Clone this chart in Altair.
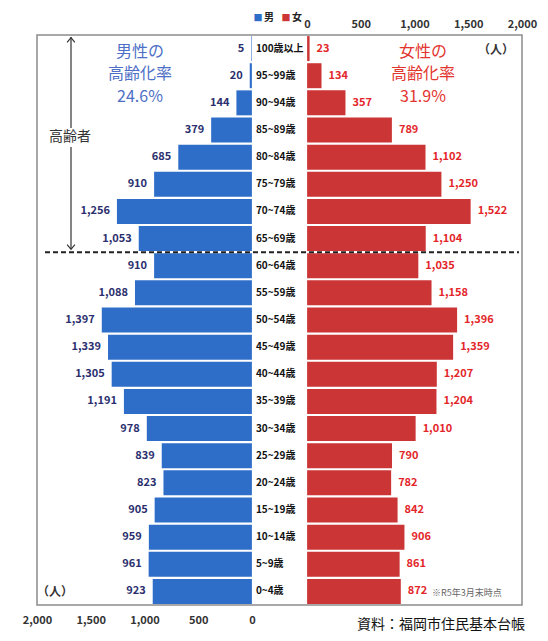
import altair as alt
import pandas as pd

# ---- data ----
ages = ["100歳以上", "95~99歳", "90~94歳", "85~89歳", "80~84歳", "75~79歳", "70~74歳",
        "65~69歳", "60~64歳", "55~59歳", "50~54歳", "45~49歳", "40~44歳", "35~39歳",
        "30~34歳", "25~29歳", "20~24歳", "15~19歳", "10~14歳", "5~9歳", "0~4歳"]
male = [5, 20, 144, 379, 685, 910, 1256, 1053, 910, 1088, 1397, 1339, 1305, 1191,
        978, 839, 823, 905, 959, 961, 923]
female = [23, 134, 357, 789, 1102, 1250, 1522, 1104, 1035, 1158, 1396, 1359, 1207, 1204,
          1010, 790, 782, 842, 906, 861, 872]
axis_ticks = [0, 500, 1000, 1500, 2000]
male_note = ["男性の", "高齢化率", "24.6%"]
female_note = ["女性の", "高齢化率", "31.9%"]
elderly_label = "高齢者"
unit_label = "（人）"
date_note = "※R5年3月末時点"
source_note = "資料：福岡市住民基本台帳"
boundary_age = "60~64歳"

# ---- style ----
FONT = "Noto Sans CJK JP"
BLUE = "#2f6ec8"
RED = "#cc3535"
BLUE_TXT = "#2b2f6e"
RED_TXT = "#e3262a"
BLUE_NOTE = "#4d6fc6"
RED_NOTE = "#e3352f"
GAP = 257          # half of the centre gap, in persons
MAXV = 2000

df_m = pd.DataFrame({"age": ages, "value": male})
df_f = pd.DataFrame({"age": ages, "value": female})
one = pd.DataFrame({"k": [0]})

xscale = alt.Scale(domain=[-(MAXV + GAP), MAXV + GAP], nice=False, zero=False)
yscale = alt.Scale(domain=ages, paddingInner=0.08, paddingOuter=0.04)


def Y(**kw):
    return alt.Y("age:N", scale=yscale, axis=None, **kw)


axis_common = dict(title=None, ticks=False, domain=False, grid=False,
                   labelFont=FONT, labelFontSize=11, labelFontWeight="bold",
                   labelColor="#333333", labelFlush=False, labelOverlap=False)

bottom_axis = alt.Axis(orient="bottom", values=[-(GAP + v) for v in axis_ticks],
                       labelExpr=f"format(-datum.value - {GAP}, ',')",
                       labelPadding=9, **axis_common)
top_axis = alt.Axis(orient="top", values=[GAP + v for v in axis_ticks],
                    labelExpr=f"format(datum.value - {GAP}, ',')",
                    labelPadding=6, **axis_common)

male_base = alt.Chart(df_m).transform_calculate(
    x0=f"-{GAP}", x1=f"-{GAP} - datum.value")
female_base = alt.Chart(df_f).transform_calculate(
    x0=f"{GAP}", x1=f"{GAP} + datum.value")

male_bars = male_base.mark_bar(color=BLUE).encode(
    x=alt.X("x1:Q", scale=xscale, axis=bottom_axis), x2="x0:Q", y=Y())
female_bars = female_base.mark_bar(color=RED).encode(
    x=alt.X("x1:Q", scale=xscale, axis=top_axis), x2="x0:Q", y=Y())

male_vals = male_base.mark_text(align="right", baseline="middle", dx=-7, font=FONT,
                                fontSize=11, fontWeight="bold", color=BLUE_TXT).encode(
    x=alt.X("x1:Q", scale=xscale, axis=None), y=Y(),
    text=alt.Text("value:Q", format=","))
female_vals = female_base.mark_text(align="left", baseline="middle", dx=7, font=FONT,
                                    fontSize=11, fontWeight="bold", color=RED_TXT).encode(
    x=alt.X("x1:Q", scale=xscale, axis=None), y=Y(),
    text=alt.Text("value:Q", format=","))

age_labels = male_base.mark_text(align="left", baseline="middle", dx=4, font=FONT,
                                 fontSize=10, fontWeight="bold", color="#111111").encode(
    x=alt.X("x0:Q", scale=xscale, axis=None), y=Y(), text="age:N")

dash = alt.Chart(pd.DataFrame({"age": [boundary_age]})).mark_rule(
    strokeDash=[5, 3], strokeWidth=2, color="#222222", yOffset=-1).encode(
    x=alt.value(8), x2=alt.value(482), y=Y(bandPosition=0))


def txt(text, x, y, **kw):
    return alt.Chart(one).mark_text(font=FONT, **kw).encode(
        x=alt.value(x), y=alt.value(y), text=alt.value(text))


layers = [male_bars, female_bars, male_vals, female_vals, age_labels, dash]

for i, (tm, tf) in enumerate(zip(male_note, female_note)):
    yy = [17, 39, 62][i]
    layers.append(txt(tm, 103, yy, fontSize=16, color=BLUE_NOTE, align="center", baseline="middle"))
    layers.append(txt(tf, 386, yy, fontSize=16, color=RED_NOTE, align="center", baseline="middle"))

# elderly arrow
arrow_parts = pd.DataFrame({"y1": [2, 112], "y2": [93, 214]})
for a, b in zip(arrow_parts["y1"], arrow_parts["y2"]):
    layers.append(alt.Chart(one).mark_rule(color="#333333", strokeWidth=1.2).encode(
        x=alt.value(34), y=alt.value(int(a)), y2=alt.value(int(b))))
layers.append(alt.Chart(one).mark_point(shape="M -1 0.6 L 0 -0.6 L 1 0.6", filled=False,
                                        color="#333333", strokeWidth=1.2, size=60, opacity=1).encode(
    x=alt.value(34), y=alt.value(5)))
layers.append(alt.Chart(one).mark_point(shape="M -1 -0.6 L 0 0.6 L 1 -0.6", filled=False,
                                        color="#333333", strokeWidth=1.2, size=60, opacity=1).encode(
    x=alt.value(34), y=alt.value(212)))
layers.append(txt(elderly_label, 33, 102, fontSize=14, color="#333333", align="center", baseline="middle"))

layers.append(txt(unit_label, 459, 15, fontSize=12, fontWeight="bold", color="#333333", align="center", baseline="middle"))
layers.append(txt(unit_label, 18, 557, fontSize=12, fontWeight="bold", color="#333333", align="center", baseline="middle"))
layers.append(txt(date_note, 395, 558, fontSize=9, color="#666666", align="left", baseline="middle"))
layers.append(txt(source_note, 488, 597, fontSize=14, color="#111111", align="right", baseline="bottom"))

# small legend at the very top
layers.append(txt("■", 221, -17, fontSize=9, color=BLUE, align="center", baseline="middle"))
layers.append(txt("男", 232, -17, fontSize=10, fontWeight="bold", color="#222222", align="center", baseline="middle"))
layers.append(txt("■", 249, -17, fontSize=9, color=RED, align="center", baseline="middle"))
layers.append(txt("女", 260, -17, fontSize=10, fontWeight="bold", color="#222222", align="center", baseline="middle"))

chart = alt.layer(*layers).resolve_axis(x="independent").properties(
    width=485, height=570,
    autosize=alt.AutoSizeParams(type="none"),
    padding={"left": 29, "top": 27, "right": 18, "bottom": 27},
    background="white",
).configure_view(stroke="#8c8c8c", strokeWidth=1.5)

chart.save("out.html", embed_options={"renderer": "svg", "actions": False})
